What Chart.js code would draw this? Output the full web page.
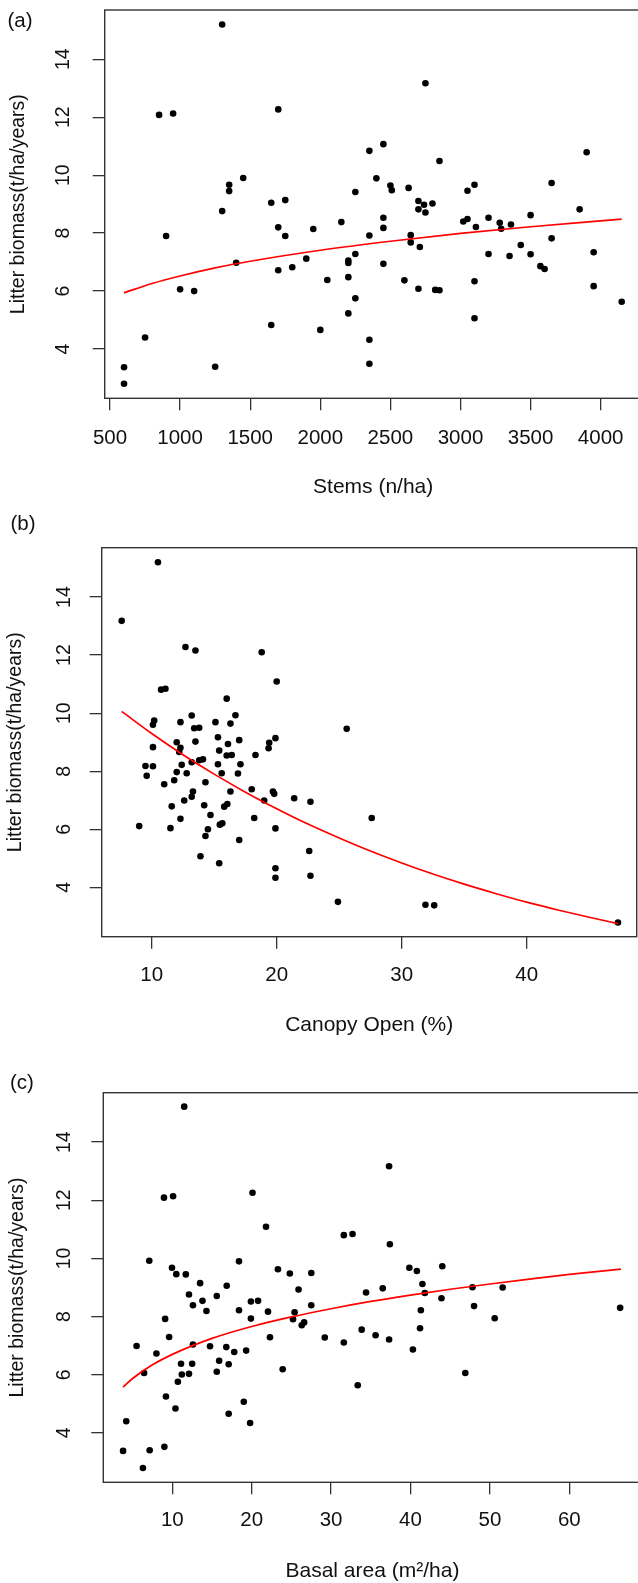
<!DOCTYPE html>
<html>
<head>
<meta charset="utf-8">
<script src="https://cdn.jsdelivr.net/npm/chart.js@4.4.1/dist/chart.umd.min.js"></script>
<style>
  html, body { margin:0; padding:0; background:#fff; overflow:hidden; width:638px; height:1583px; position:relative; }
  canvas { position:absolute; left:0; }
  .lab { position:absolute; font-family:"Liberation Sans", Arial, sans-serif; font-size:20.5px; color:#111; line-height:1; transform:translate(-50%,-50%); white-space:nowrap; }
</style>
</head>
<body>
<canvas id="ca" width="660" height="560" style="top:0px;"></canvas>
<canvas id="cb" width="660" height="560" style="top:525px;"></canvas>
<canvas id="cc" width="660" height="560" style="top:1060px;"></canvas>
<div class="lab" style="left:20px; top:20px;">(a)</div>
<div class="lab" style="left:23px; top:523px;">(b)</div>
<div class="lab" style="left:22px; top:1082px;">(c)</div>
<script>
// ---------- DATA ----------
const yTicks = [4, 6, 8, 10, 12, 14];

// (a) Stems (n/ha)
const stemsX = [1300,850,950,1700,1450,1350,1350,1300,1650,1750,1700,1750,1950,900,1900,
  1400,1700,1800,1000,1100,2050,1650,2000,750,600,600,1250,
  2750,2350,2450,2850,3900,2400,2250,2500,2510,2630,3050,3100,3650,2700,2740,2800,2700,2750,
  2450,2450,2150,2350,3020,3050,3110,3200,3280,3290,3360,3500,3850,2645,2645,2710,3650,3430,
  3950,2250,3200,3350,3500,
  2200,2200,2450,2200,2250,2200,2350,2350,2600,2700,2820,2850,3100,3100,3570,3600,3950,4150];
const stemsY = [15.2,12.08,12.13,12.27,9.9,9.67,9.45,8.76,9.05,9.14,8.2,7.9,8.14,7.9,7.12,
  6.98,6.72,6.82,6.06,6.0,6.38,4.83,4.66,4.4,3.37,2.8,3.39,
  13.17,10.84,11.07,10.49,10.79,9.89,9.42,9.64,9.48,9.56,9.46,9.67,9.73,9.11,8.98,9.02,8.82,8.71,
  8.53,8.18,8.38,7.92,8.40,8.49,8.21,8.53,8.36,8.15,8.30,8.62,8.82,7.93,7.68,7.52,7.82,7.59,
  7.34,7.28,7.28,7.21,7.27,
  7.05,6.97,6.94,6.48,5.75,5.23,4.32,3.49,6.37,6.08,6.04,6.03,6.34,5.06,6.86,6.76,6.17,5.63];
const stemsTicks = [500, 1000, 1500, 2000, 2500, 3000, 3500, 4000];
const stemsFitX = [600, 800, 1000, 1250, 1500, 2000, 2500, 3000, 3500, 4150];
const stemsFitY = [5.94, 6.26, 6.52, 6.80, 7.03, 7.41, 7.72, 7.99, 8.22, 8.48];

// (b) Canopy Open (%)
const canopyX = [10.5,7.6,12.7,13.5,18.8,20.0,10.75,11.1,16.0,10.2,10.1,12.3,13.2,13.4,13.8,15.1,16.3,16.7,
  10.1,12.0,12.3,12.2,13.5,15.3,17.0,16.1,15.4,16.0,16.4,19.4,19.35,19.9,18.3,13.2,13.8,14.1,
  12.4,15.3,17.1,9.5,10.1,9.6,12.0,12.8,15.6,16.9,11.0,11.8,14.3,13.3,16.3,18.0,19.7,19.8,
  9.0,11.6,12.6,13.2,19.0,21.4,22.7,12.3,11.5,14.2,14.7,15.8,16.05,18.2,15.45,15.65,14.5,14.3,
  19.9,17.0,13.9,15.4,22.6,19.9,19.9,22.7,25.6,27.6,24.9,31.9,32.6,47.3];
const canopyY = [15.2,13.18,12.28,12.16,12.1,11.09,10.81,10.84,10.5,9.75,9.6,9.69,9.92,9.48,9.5,9.69,9.64,9.93,
  8.83,9.0,8.81,8.66,9.02,9.17,9.07,8.94,8.71,8.54,8.56,8.98,8.79,9.14,8.56,8.31,8.38,8.41,
  8.22,8.24,8.24,8.18,8.17,7.84,7.97,7.93,7.93,7.92,7.55,7.69,7.62,7.3,7.3,7.38,7.3,7.22,
  6.11,6.79,6.99,7.12,6.99,7.07,6.95,6.36,6.04,6.83,6.49,6.78,6.87,6.39,6.16,6.21,6.0,5.77,
  6.03,5.63,5.07,4.83,5.25,4.66,4.33,4.4,9.46,6.39,3.5,3.4,3.38,2.79];
const canopyTicks = [10, 20, 30, 40];
const canopyFitX = [7.6, 10, 12.5, 15, 17.5, 20, 22.5, 25, 27.5, 30, 32.5, 35, 37.5, 40, 42.5, 45, 47.3];
const canopyFitY = [10.06, 9.30, 8.57, 7.90, 7.28, 6.71, 6.18, 5.70, 5.25, 4.84, 4.46, 4.11, 3.79, 3.49, 3.22, 2.97, 2.75];

// (c) Basal area (m²/ha)
const basalX = [11.5,8.95,10.1,20.1,21.8,7.1,9.96,10.5,11.7,13.5,16.85,18.4,23.3,24.8,27.5,25.9,
  12.1,13.8,15.6,12.6,14.3,18.4,19.9,20.8,22.05,25.4,27.5,9.1,19.9,25.2,26.3,26.6,
  9.6,5.5,12.6,8.0,14.75,16.8,17.8,19.3,22.3,29.2,6.45,11.1,12.5,15.9,17.1,15.6,11.2,12.1,10.7,
  23.9,9.2,10.4,19.0,17.1,19.8,4.2,3.8,7.15,9.0,6.3,
  37.3,31.6,32.7,37.4,39.85,40.8,44.0,41.5,41.8,34.4,36.5,47.8,51.6,43.9,48.0,41.3,50.6,66.4,
  33.85,41.2,31.6,35.6,37.3,40.3,46.9,33.35];
const basalY = [15.22,12.09,12.14,12.26,11.09,9.92,9.68,9.46,9.45,9.15,9.06,9.9,9.63,9.48,9.5,8.93,
  8.76,8.54,8.71,8.39,8.19,8.22,8.52,8.54,8.17,8.15,8.39,7.92,7.93,7.91,7.7,7.8,
  7.3,6.99,7.04,6.73,6.98,6.95,6.78,6.83,7.29,7.28,6.06,6.38,6.38,6.48,6.36,6.1,6.01,6.03,5.76,
  6.19,5.25,4.84,5.07,4.66,4.34,4.4,3.38,3.4,3.52,2.79,
  13.17,10.8,10.84,10.49,9.68,9.57,9.73,9.12,8.81,8.83,8.97,9.01,9.0,8.63,8.36,8.22,7.94,8.3,
  7.55,7.6,7.11,7.36,7.21,6.87,6.06,5.64];
const basalTicks = [10, 20, 30, 40, 50, 60];
const basalFitX = [3.8, 5, 7.5, 10, 15, 20, 25, 30, 35, 40, 45, 50, 55, 60, 66.5];
const basalFitY = [5.57, 5.87, 6.34, 6.70, 7.25, 7.66, 7.99, 8.27, 8.52, 8.74, 8.94, 9.12, 9.29, 9.45, 9.63];

const yTitle = 'Litter biomass(t/ha/years)';

// ---------- RENDER ----------
const FAMILY = '"Liberation Sans", Arial, Helvetica, sans-serif';
const X_FONT = 20.5, XT_FONT = 21, Y_FONT = 19.5, TICK_LEN = 12;
const INK = '#111', LINE = '#333';

function textWidth(txt, size) {
  const c = document.createElement('canvas').getContext('2d');
  c.font = size + 'px ' + FAMILY;
  return c.measureText(txt).width;
}

const boxPlugin = {
  id: 'box',
  afterDatasetsDraw(chart) {
    const {ctx, chartArea: a} = chart;
    ctx.save();
    ctx.strokeStyle = LINE;
    ctx.lineWidth = 1.4;
    ctx.strokeRect(a.left, a.top, a.right - a.left, a.bottom - a.top);
    ctx.restore();
  }
};

function makePanel(id, p) {
  const cv = document.getElementById(id);
  const W = cv.width, H = cv.height;
  const xLH = X_FONT * 1.2, xtLH = XT_FONT * 1.2, yLH = Y_FONT * 1.2;
  const widestY = Math.max(...yTicks.map(v => textWidth(String(v), Y_FONT)));
  new Chart(cv, {
    type: 'scatter',
    data: {
      datasets: [
        {
          type: 'line',
          data: p.fitX.map((x, i) => ({x: x, y: p.fitY[i]})),
          borderColor: '#ff0000', borderWidth: 1.7, pointRadius: 0,
          cubicInterpolationMode: 'monotone', fill: false
        },
        {
          data: p.xs.map((x, i) => ({x: x, y: p.ys[i]})),
          backgroundColor: '#000', borderColor: '#000', borderWidth: 0, pointRadius: 3.3
        }
      ]
    },
    options: {
      responsive: false, animation: false, devicePixelRatio: 1,
      layout: { padding: { left: 0, top: p.area.top, right: W - p.area.right, bottom: 0 } },
      plugins: { legend: { display: false }, tooltip: { enabled: false } },
      scales: {
        x: {
          type: 'linear', position: 'bottom', min: p.xMin, max: p.xMax,
          afterBuildTicks: s => { s.ticks = p.xTicks.map(v => ({value: v})); },
          afterFit: s => { s.height = H - p.area.bottom; s.paddingLeft = 0; s.paddingRight = 0; },
          grid: { drawOnChartArea: false, drawTicks: true, tickLength: TICK_LEN, color: LINE, lineWidth: 1.3 },
          border: { display: false },
          ticks: {
            autoSkip: false, maxRotation: 0, minRotation: 0, color: INK,
            font: { family: FAMILY, size: X_FONT },
            padding: p.xTickCY - p.area.bottom - TICK_LEN - xLH / 2,
            callback: v => String(v)
          },
          title: {
            display: true, text: p.xTitle, color: INK,
            font: { family: FAMILY, size: XT_FONT },
            padding: { top: 0, bottom: H - p.xTitleCY - xtLH / 2 }
          }
        },
        y: {
          type: 'linear', position: 'left', min: 2.3, max: 15.7,
          afterBuildTicks: s => { s.ticks = yTicks.map(v => ({value: v})); },
          afterFit: s => { s.width = p.area.left; s.paddingTop = 0; s.paddingBottom = 0; },
          grid: { drawOnChartArea: false, drawTicks: true, tickLength: TICK_LEN, color: LINE, lineWidth: 1.3 },
          border: { display: false },
          ticks: {
            autoSkip: false, minRotation: 90, maxRotation: 90, crossAlign: 'center', color: INK,
            font: { family: FAMILY, size: Y_FONT },
            padding: p.area.left - TICK_LEN - p.yTickCX - widestY / 2,
            callback: v => String(v)
          },
          title: {
            display: true, text: yTitle, color: INK,
            font: { family: FAMILY, size: Y_FONT },
            padding: { top: p.yTitleCX - yLH / 2, bottom: 0 }
          }
        }
      }
    },
    plugins: [boxPlugin]
  });
}

makePanel('ca', {
  xs: stemsX, ys: stemsY, fitX: stemsFitX, fitY: stemsFitY, xTicks: stemsTicks,
  xMin: 462, xMax: 4292, xTitle: 'Stems (n/ha)',
  area: { left: 104.7, top: 10, right: 641.6, bottom: 398.3 },
  xTickCY: 438, xTitleCY: 487, yTickCX: 63.5, yTitleCX: 19
});
makePanel('cb', {
  xs: canopyX, ys: canopyY, fitX: canopyFitX, fitY: canopyFitY, xTicks: canopyTicks,
  xMin: 6.0, xMax: 48.8, xTitle: 'Canopy Open (%)',
  area: { left: 101.7, top: 22.7, right: 636.7, bottom: 411.7 },
  xTickCY: 450, xTitleCY: 500, yTickCX: 64.5, yTitleCX: 16
});
makePanel('cc', {
  xs: basalX, ys: basalY, fitX: basalFitX, fitY: basalFitY, xTicks: basalTicks,
  xMin: 1.31, xMax: 69.1, xTitle: 'Basal area (m²/ha)',
  area: { left: 103.3, top: 32.7, right: 641.6, bottom: 422.3 },
  xTickCY: 460, xTitleCY: 511.7, yTickCX: 65, yTitleCX: 18
});
</script>
</body>
</html>
